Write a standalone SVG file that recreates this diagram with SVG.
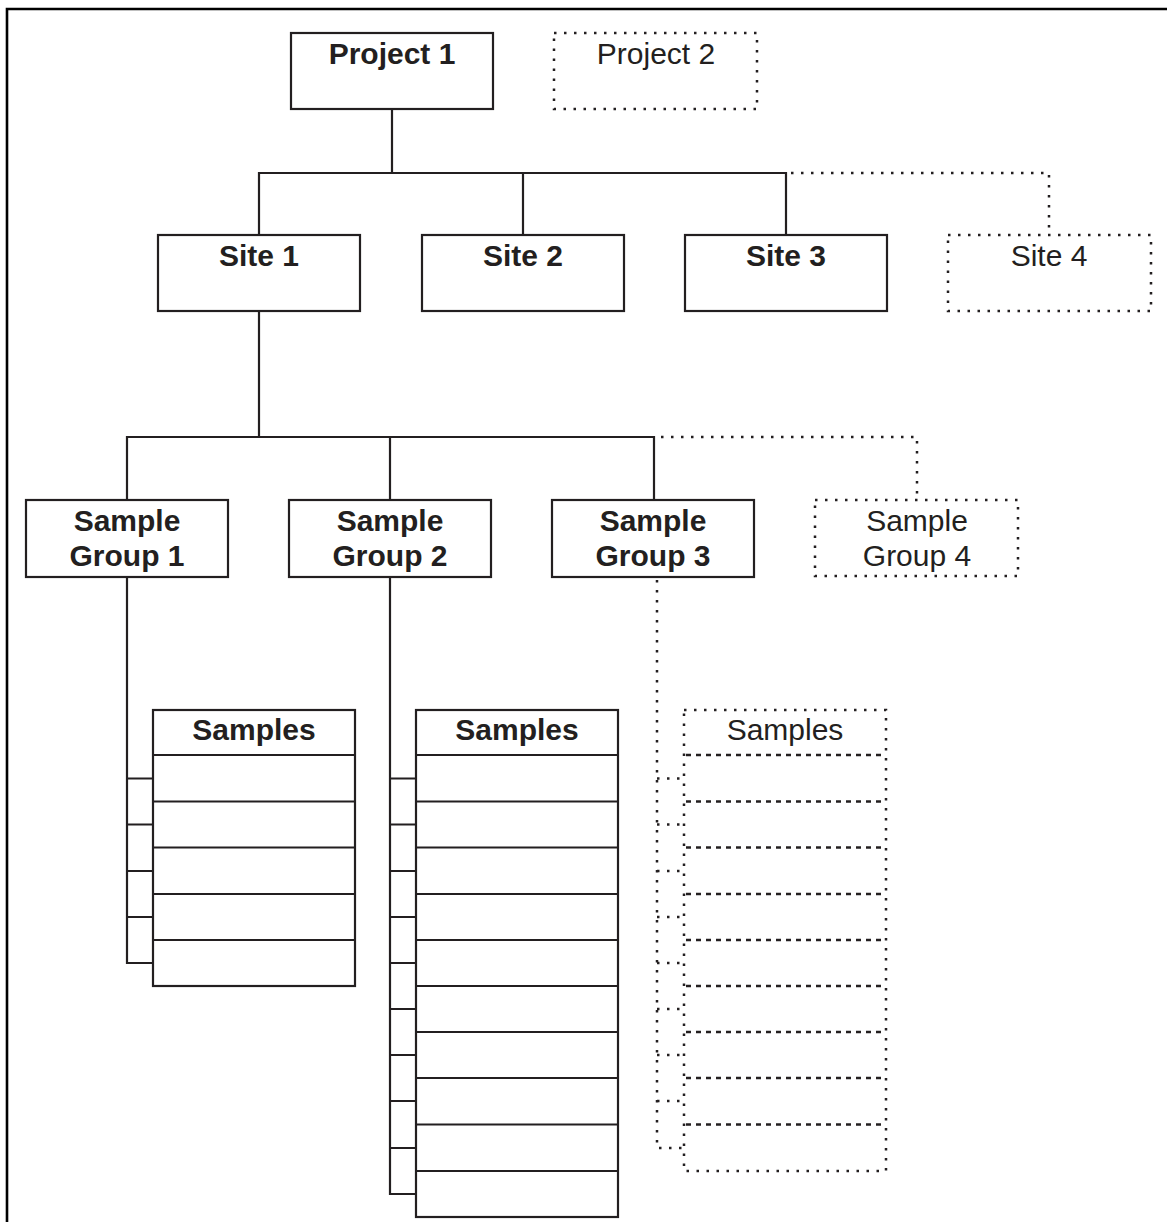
<svg xmlns="http://www.w3.org/2000/svg" width="1167" height="1222" viewBox="0 0 1167 1222">
<style>
.box{fill:#fff;stroke:#231f20;stroke-width:2.2}
.dbox{fill:#fff;stroke:#231f20;stroke-width:2.5;stroke-dasharray:2.5 7.5}
.ln{fill:none;stroke:#231f20;stroke-width:2.2}
.dl{fill:none;stroke:#231f20;stroke-width:2.5;stroke-dasharray:2.5 7.5}
.dash{fill:none;stroke:#231f20;stroke-width:2.5;stroke-dasharray:5 5}
.b{font-family:"Liberation Sans",Arial,sans-serif;font-size:30px;font-weight:bold;fill:#231f20;text-anchor:middle}
.r{font-family:"Liberation Sans",Arial,sans-serif;font-size:30px;fill:#231f20;text-anchor:middle}
</style>
<rect width="1167" height="1222" fill="#fff"/>
<path d="M7 1222V9H1167" fill="none" stroke="#000" stroke-width="2.6"/>
<g id="connectors">
<path class="ln" d="M392 109V173M259 235V173H786V235M523 173V235"/>
<path class="dl" d="M791 173H1049V235"/>
<path class="ln" d="M259 311V437M127 500V437H654V500M390 437V500"/>
<path class="dl" d="M661 437H917V500"/>
<path class="ln" d="M127 577V963H153M127 778.5H153M127 824.5H153M127 871H153M127 917H153"/>
<path class="ln" d="M390 577V1194H416M390 778.5H416M390 824.5H416M390 871H416M390 917H416M390 963H416M390 1009H416M390 1055H416M390 1101H416M390 1148H416"/>
<path class="dl" d="M657 580V1148H684M657 778.5H684M657 824.5H684M657 871H684M657 917H684M657 963H684M657 1009H684M657 1055H684M657 1101H684"/>
</g>
<g id="project1"><rect class="box" x="291" y="33" width="202" height="76"/><text class="b" x="392" y="64">Project 1</text></g>
<g id="project2"><rect class="dbox" x="554" y="33" width="203" height="76"/><text class="r" x="656" y="64">Project 2</text></g>
<g id="site1"><rect class="box" x="158" y="235" width="202" height="76"/><text class="b" x="259" y="266">Site 1</text></g>
<g id="site2"><rect class="box" x="422" y="235" width="202" height="76"/><text class="b" x="523" y="266">Site 2</text></g>
<g id="site3"><rect class="box" x="685" y="235" width="202" height="76"/><text class="b" x="786" y="266">Site 3</text></g>
<g id="site4"><rect class="dbox" x="948" y="235" width="203" height="76"/><text class="r" x="1049" y="266">Site 4</text></g>
<g id="group1"><rect class="box" x="26" y="500" width="202" height="77"/><text class="b" x="127" y="531">Sample</text><text class="b" x="127" y="566">Group 1</text></g>
<g id="group2"><rect class="box" x="289" y="500" width="202" height="77"/><text class="b" x="390" y="531">Sample</text><text class="b" x="390" y="566">Group 2</text></g>
<g id="group3"><rect class="box" x="552" y="500" width="202" height="77"/><text class="b" x="653" y="531">Sample</text><text class="b" x="653" y="566">Group 3</text></g>
<g id="group4"><rect class="dbox" x="815" y="500" width="203" height="76"/><text class="r" x="917" y="531">Sample</text><text class="r" x="917" y="566">Group 4</text></g>
<g id="samples1">
<rect class="box" x="153" y="710" width="202" height="276"/>
<path class="ln" d="M153 755H355M153 801.5H355M153 847.5H355M153 894H355M153 940H355"/>
<text class="b" x="254" y="740">Samples</text>
</g>
<g id="samples2">
<rect class="box" x="416" y="710" width="202" height="507"/>
<path class="ln" d="M416 755H618M416 801.5H618M416 847.5H618M416 894H618M416 940H618M416 986H618M416 1032H618M416 1078H618M416 1124.5H618M416 1171H618"/>
<text class="b" x="517" y="740">Samples</text>
</g>
<g id="samples3">
<rect class="dbox" x="684" y="710" width="202" height="461"/>
<path class="dash" d="M686 755H884M686 801.5H884M686 847.5H884M686 894H884M686 940H884M686 986H884M686 1032H884M686 1078H884M686 1124.5H884"/>
<text class="r" x="785" y="740">Samples</text>
</g>
</svg>
